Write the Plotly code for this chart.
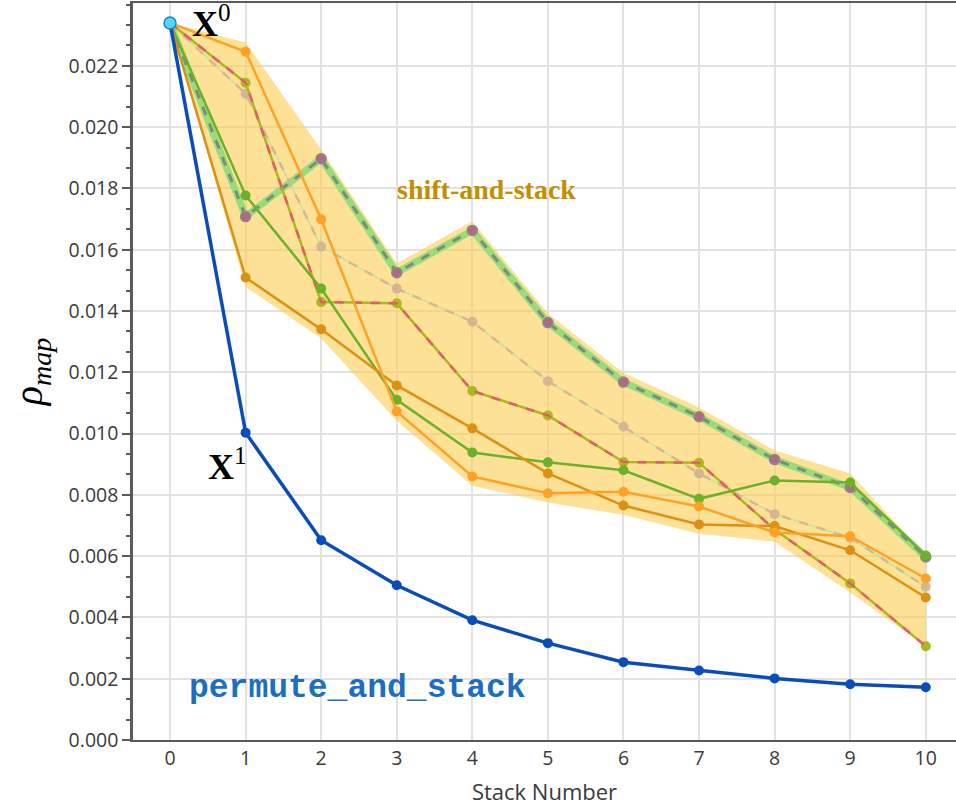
import plotly.graph_objects as go
import numpy as np

stacks = list(range(11))
x_ticks = list(range(11))
y_ticks = [0.000, 0.002, 0.004, 0.006, 0.008, 0.010, 0.012, 0.014, 0.016, 0.018, 0.020, 0.022]

permute_and_stack = [0.02340, 0.01003, 0.00652, 0.00505, 0.00391, 0.00316, 0.00254, 0.00227, 0.00201, 0.00182, 0.00172]

shift_orange = [0.02340, 0.02246, 0.01699, 0.01072, 0.00860, 0.00805, 0.00810, 0.00762, 0.00677, 0.00665, 0.00527]
shift_darkorange = [0.02340, 0.01509, 0.01340, 0.01157, 0.01017, 0.00870, 0.00765, 0.00703, 0.00698, 0.00619, 0.00465]
shift_green = [0.02340, 0.01777, 0.01473, 0.01110, 0.00938, 0.00906, 0.00880, 0.00787, 0.00847, 0.00840, 0.00602]
shift_olive = [0.02340, 0.02145, 0.01429, 0.01425, 0.01139, 0.01059, 0.00907, 0.00905, 0.00687, 0.00511, 0.00306]
shift_tan = [0.02340, 0.02109, 0.01610, 0.01473, 0.01365, 0.01171, 0.01022, 0.00870, 0.00737, 0.00660, 0.00500]
shift_top = [0.02340, 0.01708, 0.01897, 0.01525, 0.01663, 0.01362, 0.01168, 0.01055, 0.00915, 0.00824, 0.00597]

band_pad = 0.0003

all_shift = np.array([shift_orange, shift_darkorange, shift_green, shift_olive, shift_tan, shift_top])
upper = all_shift.max(axis=0)
lower = all_shift.min(axis=0)
pad = np.full(len(stacks), band_pad)
pad[0] = 0
pad[-1] = 0
upper_b = upper + pad
lower_b = lower - pad

fig = go.Figure()

# band
fig.add_trace(go.Scatter(x=stacks + stacks[::-1], y=list(upper_b) + list(lower_b[::-1]),
                         fill="toself", fillcolor="rgba(252,205,80,0.6)", line=dict(width=0),
                         mode="lines", hoverinfo="skip", showlegend=False))

# top line: wide light green + grey dash + mauve markers
fig.add_trace(go.Scatter(x=stacks, y=shift_top, mode="lines",
                         line=dict(color="#9ADC7C", width=7), showlegend=False))
fig.add_trace(go.Scatter(x=stacks, y=shift_top, mode="lines+markers",
                         line=dict(color="#7D8C7A", width=3, dash="dash"),
                         marker=dict(color="#B06A85", size=10, line=dict(color="#8A8A8A", width=1.5)),
                         showlegend=False))

# tan line
fig.add_trace(go.Scatter(x=stacks, y=shift_tan, mode="lines",
                         line=dict(color="#C3E59A", width=1.5), showlegend=False))
fig.add_trace(go.Scatter(x=stacks, y=shift_tan, mode="lines+markers",
                         line=dict(color="#D3B593", width=2.5, dash="dash"),
                         marker=dict(color="#D2B394", size=10), opacity=0.9, showlegend=False))

# olive + red dash
fig.add_trace(go.Scatter(x=stacks, y=shift_olive, mode="lines+markers",
                         line=dict(color="#ACB81C", width=2.5),
                         marker=dict(color="#ACB81C", size=10), showlegend=False))
fig.add_trace(go.Scatter(x=stacks, y=shift_olive, mode="lines",
                         line=dict(color="#E55B6A", width=2.5, dash="dash"), showlegend=False))

# green
fig.add_trace(go.Scatter(x=stacks, y=shift_green, mode="lines+markers",
                         line=dict(color="#6DB02A", width=2.5),
                         marker=dict(color="#6DB02A", size=10), showlegend=False))
# dark orange
fig.add_trace(go.Scatter(x=stacks, y=shift_darkorange, mode="lines+markers",
                         line=dict(color="#DC9014", width=2.5),
                         marker=dict(color="#DC9014", size=10), showlegend=False))
# orange
fig.add_trace(go.Scatter(x=stacks, y=shift_orange, mode="lines+markers",
                         line=dict(color="#FFA126", width=2.5),
                         marker=dict(color="#FFA126", size=10), showlegend=False))

# permute_and_stack
fig.add_trace(go.Scatter(x=stacks, y=permute_and_stack, mode="lines+markers",
                         line=dict(color="#0B4DB8", width=3.5),
                         marker=dict(color="#0B4DB8", size=10), showlegend=False))

# start point
fig.add_trace(go.Scatter(x=stacks[:1], y=permute_and_stack[:1], mode="markers",
                         marker=dict(color="#4FD8F5", size=12, line=dict(color="#1E7FD0", width=1.5)),
                         showlegend=False))

serif = "Liberation Serif, Times New Roman, serif"
fig.add_annotation(x=0.27, y=0.02345, text="<b>X</b><sup>0</sup>", showarrow=False,
                   xanchor="left", yanchor="middle", font=dict(family=serif, size=36, color="black"))
fig.add_annotation(x=0.48, y=0.0090, text="<b>X</b><sup>1</sup>", showarrow=False,
                   xanchor="left", yanchor="middle", font=dict(family=serif, size=36, color="black"))
fig.add_annotation(x=4.19, y=0.01797, text="<b>shift-and-stack</b>", showarrow=False,
                   font=dict(family=serif, size=28, color="#C09000"))
fig.add_annotation(x=2.48, y=0.00169, text="<b>permute_and_stack</b>", showarrow=False,
                   font=dict(family="Liberation Mono, Courier New, monospace", size=33, color="#1C6FC0"))

tickfont = dict(family="Open Sans, Noto Sans, sans-serif", size=19.5, color="#3A3A3A")

fig.update_layout(
    width=956, height=809,
    margin=dict(l=133, r=0, t=3, b=69),
    paper_bgcolor="white", plot_bgcolor="white",
    xaxis=dict(range=[-0.49, 10.4], tickvals=x_ticks, ticks="", showgrid=True,
               gridcolor="#E2E2E2", gridwidth=1.5, zeroline=False,
               showline=True, linecolor="#5A5A5A", linewidth=2, mirror=True,
               tickfont=tickfont,
               title=dict(text="Stack Number", font=dict(family="Open Sans, Noto Sans, sans-serif", size=22, color="#3A3A3A"), standoff=14)),
    yaxis=dict(range=[0, 0.02405], tickvals=y_ticks, tickformat=".3f", ticks="outside",
               ticklen=8, tickcolor="#5A5A5A", tickwidth=1.5,
               showgrid=True, gridcolor="#E2E2E2", gridwidth=1.5, zeroline=False,
               showline=True, linecolor="#5A5A5A", linewidth=2.5,
               minor=dict(dtick=0.002 / 3, ticks="outside", ticklen=4, tickcolor="#5A5A5A", showgrid=False),
               tickfont=tickfont,
               title=dict(text="<i>ρ</i><sub><i>map</i></sub>", font=dict(family=serif, size=40, color="black"), standoff=14)),
)

fig.write_html("out.html")
